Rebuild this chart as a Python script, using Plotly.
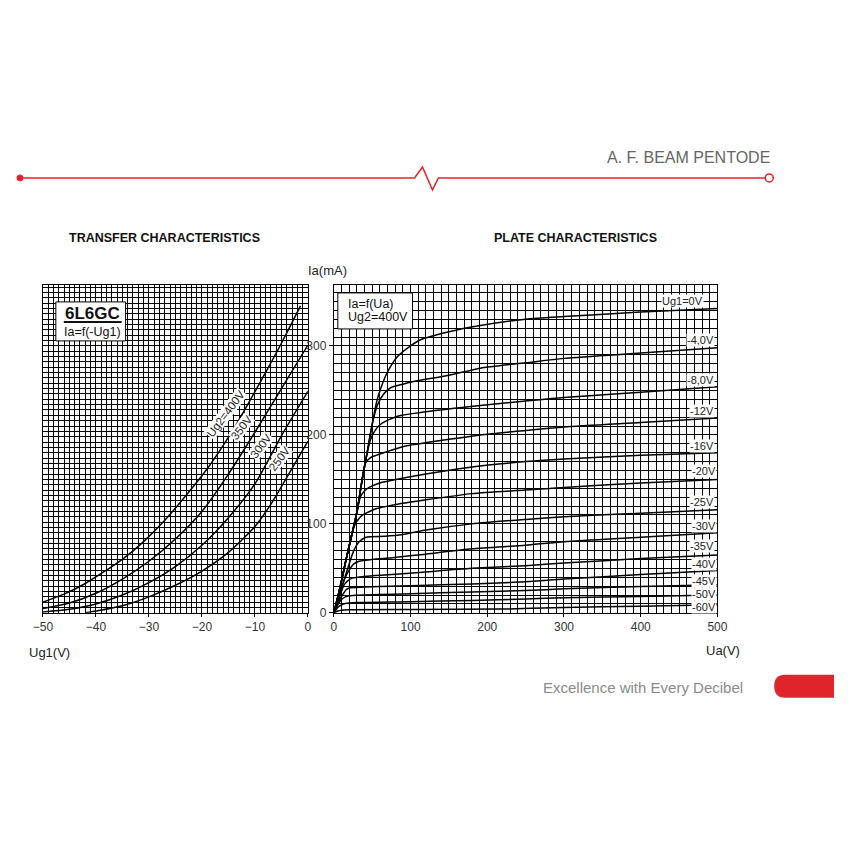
import plotly.graph_objects as go

# ---------------- data ----------------
# Transfer characteristics: Ia (mA) vs Ug1 (V), for several Ug2
tr_ug1_400 = [-50, -46, -42, -38, -35, -31, -27, -23, -20, -17, -14, -11, -8, -5, -1.4]
tr_ia_400 = [12, 21, 33, 48, 60, 80, 104, 132, 154, 179, 207, 238, 270, 303, 345]
tr_ug1_350 = [-50, -45, -40, -35, -30, -25, -20, -15, -10, -5, 0]
tr_ia_350 = [5, 11, 22, 38, 58, 83, 114, 156, 203, 252, 301]
tr_ug1_300 = [-50, -45, -40, -35, -30, -25, -20, -15, -10, -5, 0]
tr_ia_300 = [1, 4, 10, 20, 34, 52, 76, 107, 145, 199, 249]
tr_ug1_250 = [-42, -40, -35, -30, -25, -20, -15, -10, -7, -4, 0]
tr_ia_250 = [0, 2, 8, 18, 31, 47, 68, 97, 122, 152, 193]
tr_labels = ["Ug2=400V", "350V", "300V", "250V"]

# Plate characteristics: Ia (mA) vs Ua (V), Ug2 = 400 V
pl_ua_0 = [0, 8, 16, 24, 30, 37, 43, 50, 56, 61, 69, 83, 100, 113, 150, 191, 250, 300, 400, 500]
pl_ia_0 = [0, 28, 60, 90, 113, 150, 178, 212, 238, 252, 269, 288, 300, 307, 316, 323, 330, 333, 338, 342]
pl_ua_4 = [0, 8, 16, 24, 30, 37, 43, 50, 57, 65, 74, 90, 104, 150, 191, 250, 300, 400, 500]
pl_ia_4 = [0, 28, 60, 90, 113, 150, 178, 212, 234, 246, 253, 257, 260, 267, 275, 281, 286, 292, 298]
pl_ua_8 = [0, 8, 16, 24, 30, 37, 43, 48, 53, 61, 83, 120, 191, 250, 300, 400, 500]
pl_ia_8 = [0, 28, 60, 90, 113, 150, 178, 195, 204, 212, 221, 226, 233, 238, 242, 248, 254]
pl_ua_12 = [0, 8, 16, 24, 30, 36, 41, 47, 55, 65, 91, 150, 191, 250, 300, 400, 500]
pl_ia_12 = [0, 28, 60, 90, 113, 145, 168, 174, 177, 180, 187, 195, 200, 205, 209, 214, 219]
pl_ua_16 = [0, 8, 16, 24, 30, 35, 40, 46, 60, 76, 120, 180, 250, 300, 400, 500]
pl_ia_16 = [0, 28, 60, 90, 113, 131, 137, 141, 146, 149, 156, 164, 170, 173, 177, 180]
pl_ua_20 = [0, 8, 16, 24, 28, 31, 36, 42, 55, 76, 120, 180, 250, 300, 400, 500]
pl_ia_20 = [0, 28, 60, 90, 100, 104, 109, 112, 117, 121, 127, 134, 138, 141, 146, 150]
pl_ua_25 = [0, 10, 20, 26, 33, 42, 67, 90, 120, 180, 250, 300, 400, 500]
pl_ia_25 = [0, 28, 55, 70, 80, 85, 86, 88, 93, 100, 105, 108, 112, 116]
pl_ua_30 = [0, 8, 14, 20, 26, 33, 50, 76, 120, 180, 250, 300, 400, 500]
pl_ia_30 = [0, 22, 38, 48, 55, 58, 60, 62, 66, 72, 76, 80, 85, 90]
pl_ua_35 = [0, 6, 13, 18, 24, 40, 76, 120, 180, 250, 300, 400, 500]
pl_ia_35 = [0, 14, 31, 36, 39, 41, 43, 46, 50, 53, 56, 61, 65]
pl_ua_40 = [0, 6, 12, 16, 20, 40, 100, 180, 250, 300, 400, 500]
pl_ia_40 = [0, 12, 21, 26, 28, 29, 30.5, 32.5, 35, 38, 43, 47.5]
pl_ua_45 = [0, 5, 10, 15, 25, 60, 120, 180, 250, 300, 400, 500]
pl_ia_45 = [0, 9, 15, 18, 19.5, 20.5, 22, 23.5, 25, 27, 29.5, 31.5]
pl_ua_50 = [0, 5, 10, 15, 30, 100, 180, 250, 300, 400, 500]
pl_ia_50 = [0, 6, 9, 10.5, 11.5, 12.5, 14, 15.5, 17, 18.5, 20.2]
pl_ua_60 = [0, 5, 10, 20, 100, 217, 300, 400, 500]
pl_ia_60 = [0, 2, 3, 3.5, 3.8, 4.2, 6, 7.5, 9]
pl_labels = ["Ug1=0V", "-4,0V", "-8,0V", "-12V", "-16V", "-20V", "-25V",
             "-30V", "-35V", "-40V", "-45V", "-50V", "-60V"]

x1_ticks = [-50, -40, -30, -20, -10, 0]
x2_ticks = [0, 100, 200, 300, 400, 500]
y2_ticks = [0, 100, 200, 300]

# ---------------- layout helpers ----------------
W = H = 850
# map target screen pixels to paper fractions (compensating the observed page transform)
def P(px):
    return ((px - 8) / 0.98) / W
def Q(py):
    return 1 - (py / 0.992) / H

Y_TOP, Y_BOT = 285, 613
IA_MAX = (Y_BOT - Y_TOP) / 0.89

fig = go.Figure()

LINE = dict(color="black", width=1.5, shape="spline", smoothing=0.7)

transfer = [(tr_ug1_400, tr_ia_400), (tr_ug1_350, tr_ia_350),
            (tr_ug1_300, tr_ia_300), (tr_ug1_250, tr_ia_250)]
for xs, ys in transfer:
    fig.add_trace(go.Scatter(x=xs, y=ys, mode="lines", line=LINE,
                             xaxis="x", yaxis="y", showlegend=False, hoverinfo="skip"))

plate = [(pl_ua_0, pl_ia_0), (pl_ua_4, pl_ia_4), (pl_ua_8, pl_ia_8), (pl_ua_12, pl_ia_12),
         (pl_ua_16, pl_ia_16), (pl_ua_20, pl_ia_20), (pl_ua_25, pl_ia_25), (pl_ua_30, pl_ia_30),
         (pl_ua_35, pl_ia_35), (pl_ua_40, pl_ia_40), (pl_ua_45, pl_ia_45), (pl_ua_50, pl_ia_50),
         (pl_ua_60, pl_ia_60)]
for xs, ys in plate:
    fig.add_trace(go.Scatter(x=xs, y=ys, mode="lines", line=LINE,
                             xaxis="x2", yaxis="y2", showlegend=False, hoverinfo="skip"))

FONT = "Liberation Sans, Arial, sans-serif"
TICKF = dict(family=FONT, size=12, color="#333")
GRID = dict(showgrid=True, gridcolor="black", gridwidth=1)

fig.update_layout(
    width=W, height=H, autosize=False, margin=dict(l=0, r=0, t=0, b=0),
    paper_bgcolor="white", plot_bgcolor="white",
    xaxis=dict(domain=[P(41), P(307)], range=[-50, 0], tickvals=x1_ticks,
               ticks="outside", ticklen=3, tickcolor="black", tickfont=TICKF,
               showline=True, linecolor="black", linewidth=1.2, mirror=True,
               zeroline=False, anchor="y",
               minor=dict(dtick=1, showgrid=True, gridcolor="black", gridwidth=1), **GRID),
    yaxis=dict(domain=[Q(Y_BOT), Q(Y_TOP)], range=[0, IA_MAX], dtick=6, tick0=0,
               showticklabels=False, ticks="", zeroline=False,
               showline=True, linecolor="black", linewidth=1.2, mirror=True,
               anchor="x", **GRID),
    xaxis2=dict(domain=[P(333), P(718)], range=[0, 500], tickvals=x2_ticks,
                ticks="outside", ticklen=3, tickcolor="black", tickfont=TICKF,
                showline=True, linecolor="black", linewidth=1.2, mirror=True,
                zeroline=False, anchor="y2",
                minor=dict(dtick=10, showgrid=True, gridcolor="black", gridwidth=1), **GRID),
    yaxis2=dict(domain=[Q(Y_BOT), Q(Y_TOP)], range=[0, IA_MAX], tickvals=y2_ticks,
                ticks="outside", ticklen=4, tickcolor="black", tickfont=TICKF,
                showline=True, linecolor="black", linewidth=1.2, mirror=True,
                zeroline=False, anchor="x2",
                minor=dict(dtick=10, showgrid=True, gridcolor="black", gridwidth=1), **GRID),
)

ann = []
def text(px, py, s, size=12, color="#222", bold=False, xanchor="center", family=FONT, **kw):
    if bold:
        s = "<b>" + s + "</b>"
    ann.append(dict(x=P(px), y=Q(py), xref="paper", yref="paper", text=s, showarrow=False,
                    xanchor=xanchor, yanchor="middle",
                    font=dict(family=family, size=size, color=color), **kw))

# header / footer
text(773, 158, "A. F. BEAM PENTODE", size=16, color="#666", xanchor="right")
text(163, 238, "TRANSFER CHARACTERISTICS", size=12.5, color="#111", bold=True)
text(576, 238, "PLATE CHARACTERISTICS", size=12.5, color="#111", bold=True)
text(746, 688, "Excellence with Every Decibel", size=15, color="#8a8a8a", xanchor="right")

# axis titles
text(327, 271, "Ia(mA)", size=13, color="#222")
text(25, 653, "Ug1(V)", size=13, color="#222", xanchor="left")
text(705, 651, "Ua(V)", size=13, color="#222", xanchor="left")

# legend boxes
text(91, 314, "6L6GC", size=17, color="#111", bold=True)
text(91, 332, "Ia=f(-Ug1)", size=12.5, color="#111")
text(345, 304, "Ia=f(Ua)", size=12.5, color="#111", xanchor="left")
text(345, 317, "Ug2=400V", size=12.5, color="#111", xanchor="left")

# curve labels, transfer chart (data coords)
tr_lab_pos = [(-15.6, 224), (-12.6, 208), (-8.9, 188), (-5.4, 173)]
for lab, (lx, ly) in zip(tr_labels, tr_lab_pos):
    ann.append(dict(x=lx, y=ly, xref="x", yref="y", text=lab, showarrow=False,
                    textangle=-53, bgcolor="white", borderpad=0,
                    font=dict(family=FONT, size=11.5, color="#222")))

# curve labels, plate chart (data coords)
pl_lab_pos = [(454, 350), (478, 307), (478, 262), (480, 227), (480, 188), (482, 159),
              (480, 125), (482, 98), (480, 75), (482, 55), (482, 36), (482, 21.5), (482, 7)]
for lab, (lx, ly) in zip(pl_labels, pl_lab_pos):
    ann.append(dict(x=lx, y=ly, xref="x2", yref="y2", text=lab, showarrow=False,
                    bgcolor="white", borderpad=0,
                    font=dict(family=FONT, size=11, color="#222")))

fig.update_layout(annotations=ann)

RED = "#e0242c"
shapes = [
    # legend boxes
    dict(type="rect", xref="paper", yref="paper", x0=P(54), x1=P(124), y0=Q(341), y1=Q(302),
         line=dict(color="black", width=1), fillcolor="white", layer="above"),
    dict(type="line", xref="paper", yref="paper", x0=P(62), x1=P(120), y0=Q(322), y1=Q(322),
         line=dict(color="#111", width=2)),
    dict(type="rect", xref="paper", yref="paper", x0=P(337), x1=P(412), y0=Q(329), y1=Q(293),
         line=dict(color="black", width=1), fillcolor="white", layer="above"),
    # red header line with squiggle
    dict(type="path", xref="paper", yref="paper",
         path=f"M {P(18)} {Q(178)} L {P(414)} {Q(178)} L {P(422)} {Q(167)} L {P(432)} {Q(190)} "
              f"L {P(438)} {Q(178)} L {P(766)} {Q(178)}",
         line=dict(color=RED, width=1.5)),
    dict(type="circle", xref="paper", yref="paper", x0=P(15), x1=P(21), y0=Q(181), y1=Q(175),
         line=dict(color=RED, width=1), fillcolor=RED),
    dict(type="circle", xref="paper", yref="paper", x0=P(766), x1=P(774), y0=Q(182), y1=Q(174),
         line=dict(color=RED, width=1.5), fillcolor="white"),
    # red pill
    dict(type="path", xref="paper", yref="paper",
         path=f"M {P(835)} {Q(675)} L {P(786)} {Q(675)} Q {P(775)} {Q(675)} {P(775)} {Q(686.5)} "
              f"Q {P(775)} {Q(698)} {P(786)} {Q(698)} L {P(835)} {Q(698)} Z",
         line=dict(color=RED, width=0), fillcolor=RED),
]
fig.update_layout(shapes=shapes)

post = ("document.body.style.margin='0';document.body.style.padding='0';"
        "document.documentElement.style.overflow='hidden';"
        "var gd=document.getElementById('{plot_id}');"
        "gd.style.position='absolute';gd.style.left='0px';gd.style.top='0px';"
        "gd.style.width='850px';gd.style.height='850px';"
        "Plotly.relayout(gd,{width:850,height:850});")
fig.write_html("out.html", config={"displayModeBar": False, "responsive": False},
               post_script=post)
